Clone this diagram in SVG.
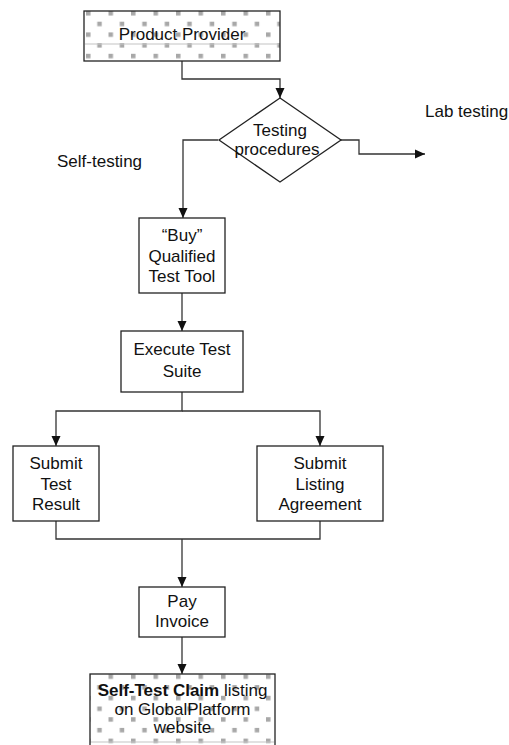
<svg xmlns="http://www.w3.org/2000/svg" width="509" height="745" viewBox="0 0 509 745">
<style>
text{font-family:"Liberation Sans",Arial,sans-serif;font-size:17px;fill:#111;text-anchor:middle}
.box{fill:#fff;stroke:#222;stroke-width:1.3}
.pbox{fill:url(#dots);stroke:#222;stroke-width:1.3}
.edge{fill:none;stroke:#333;stroke-width:1.3}
.lite{stroke:#c4c4c4;stroke-width:1.2}
</style>
<defs>
<pattern id="dots" patternUnits="userSpaceOnUse" x="86" y="11" width="22.5" height="21.4">
<rect width="22.5" height="21.4" fill="#fff"/>
<rect x="0" y="0" width="4.5" height="4.5" fill="#a8a8a8"/>
<rect x="11.25" y="10.7" width="4.5" height="4.5" fill="#a8a8a8"/>
</pattern>
<marker id="arr" viewBox="0 0 10 10" refX="10" refY="5" markerWidth="10" markerHeight="10" markerUnits="userSpaceOnUse" orient="auto">
<path d="M0,0.5 L10,5 L0,9.5 Z" fill="#111"/>
</marker>
</defs>
<g id="connectors">
<path class="edge" d="M182,61 V79 H280 V98" marker-end="url(#arr)"/>
<path class="edge" d="M218,140 H183 V218" marker-end="url(#arr)"/>
<path class="edge" d="M340,140 H359 V154 H425" marker-end="url(#arr)"/>
<path class="edge" d="M182,293 V331" marker-end="url(#arr)"/>
<path class="edge" d="M182,392 V411 H56 V446" marker-end="url(#arr)"/>
<path class="edge" d="M182,411 H320 V446" marker-end="url(#arr)"/>
<path class="edge" d="M56,521 V539 H320 V521"/>
<path class="edge" d="M182,539 V587" marker-end="url(#arr)"/>
<path class="edge" d="M182,637 V674" marker-end="url(#arr)"/>
</g>
<g id="product-provider">
<rect class="pbox" x="84" y="11" width="196" height="50"/>
<line class="lite" x1="85" y1="44" x2="279" y2="44"/>
<text x="182" y="40">Product Provider</text>
</g>
<g id="testing-procedures">
<polygon class="box" points="280,98 341,140 280,182 219,140"/>
<text x="280" y="136">Testing</text>
<text x="277" y="155">procedures</text>
</g>
<g id="lab-testing">
<text x="425" y="117" style="text-anchor:start">Lab testing</text>
</g>
<g id="self-testing">
<text x="57" y="167" style="text-anchor:start">Self-testing</text>
</g>
<g id="buy-tool">
<rect class="box" x="139" y="218" width="86" height="75"/>
<text x="182" y="241">“Buy”</text>
<text x="182" y="262">Qualified</text>
<text x="182" y="282">Test Tool</text>
</g>
<g id="execute">
<rect class="box" x="121" y="331" width="122" height="61"/>
<text x="182" y="355">Execute Test</text>
<text x="182" y="377">Suite</text>
</g>
<g id="submit-result">
<rect class="box" x="13" y="446" width="86" height="75"/>
<text x="56" y="469">Submit</text>
<text x="56" y="490">Test</text>
<text x="56" y="510">Result</text>
</g>
<g id="submit-listing">
<rect class="box" x="257" y="446" width="126" height="75"/>
<text x="320" y="469">Submit</text>
<text x="320" y="490">Listing</text>
<text x="320" y="510">Agreement</text>
</g>
<g id="pay">
<rect class="box" x="139" y="587" width="86" height="50"/>
<text x="182" y="607">Pay</text>
<text x="182" y="627">Invoice</text>
</g>
<g id="claim">
<rect class="pbox" x="90" y="674" width="185" height="90"/>
<line class="lite" x1="91" y1="742" x2="274" y2="742"/>
<text x="182.5" y="696"><tspan font-weight="bold">Self-Test Claim</tspan> listing</text>
<text x="182.5" y="715">on GlobalPlatform</text>
<text x="182.5" y="733">website</text>
</g>
</svg>
